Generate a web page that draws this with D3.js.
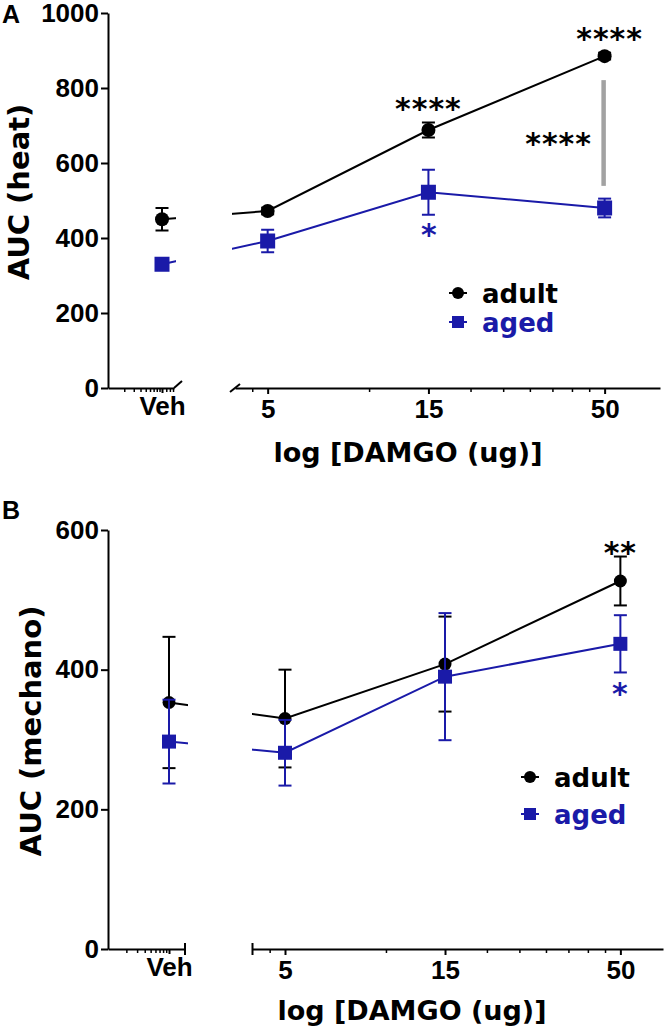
<!DOCTYPE html>
<html><head><meta charset="utf-8">
<script src="https://cdn.jsdelivr.net/npm/d3@7"></script>
<style>body{margin:0;background:#fff}</style>
</head><body>
<svg id="c" width="670" height="1031" xmlns="http://www.w3.org/2000/svg"></svg>
<script>
// ---------- data ----------
const doses = [5, 15, 50];
const vehDose = 10;
const xMajorTicks = [5, 15, 50];
const xMinorTicks = [4.5, 10, 20, 25, 30, 35, 40, 45];
const vehMinorTicksA = [2, 3, 4, 5, 6, 7, 8, 9, 12, 14, 16];
const vehMinorTicksB = [2, 3, 4, 5, 6, 7, 8, 9];
const seriesNames = ["adult", "aged"];

// Panel A: heat
const heatYTicks = [0, 200, 400, 600, 800, 1000];
const heatVehAdult = [450, 30];   // mean, sem
const heatVehAged = [330, 8];
const heatAdult = [472, 688, 885];
const heatAdultErr = [9, 20, 9];
const heatAged = [392, 522, 480];
const heatAgedErr = [30, 60, 25];
const heatCompareBar = [539, 821];  // adult vs aged at 50 (gray bar span)

// Panel B: mechano
const mechYTicks = [0, 200, 400, 600];
const mechVehAdult = [353, 94];
const mechVehAged = [297, 60];
const mechAdult = [330, 408, 527];
const mechAdultErr = [70, 68, 35];
const mechAged = [281, 390, 437];
const mechAgedErr = [47, 91, 41];

// ---------- drawing ----------
const BLUE = "#1a1aa8";
const svg = d3.select("#c");
const NUM_FONT = "'Liberation Sans', Arial, sans-serif";
const TXT_FONT = "'DejaVu Sans', Verdana, sans-serif";

function drawPanel(cfg) {
  const g = svg.append("g");
  const y = d3.scaleLinear().domain([0, cfg.ymax]).range([cfg.y0, cfg.yTop]);
  const xv = d3.scaleLog().domain([1, cfg.vehEnd]).range([cfg.axX, cfg.vehEndPx]);
  const xr = d3.scaleLog().domain([4, cfg.rEnd]).range([cfg.rStart, cfg.rEndPx]);

  // clip for lines through axis break
  const cid = "clip" + cfg.id;
  const cp = svg.append("defs").append("clipPath").attr("id", cid);
  cp.append("rect").attr("x", 0).attr("y", 0).attr("width", cfg.gapL).attr("height", 1031);
  cp.append("rect").attr("x", cfg.gapR).attr("y", 0).attr("width", 670 - cfg.gapR).attr("height", 1031);

  // Y axis
  const ya = g.append("g").attr("transform", `translate(${cfg.axX},0)`)
    .call(d3.axisLeft(y).tickValues(cfg.yTicks).tickFormat(d3.format("d")).tickSize(7).tickSizeOuter(0).tickPadding(2));
  ya.select(".domain").attr("stroke-width", 2);
  ya.selectAll(".tick line").attr("stroke-width", 2);
  ya.selectAll(".tick text").attr("font-family", NUM_FONT).attr("font-weight", "bold")
    .attr("font-size", 26).attr("fill", "#000");

  // Veh x axis
  const xva = g.append("g").attr("transform", `translate(0,${cfg.y0})`)
    .call(d3.axisBottom(xv).tickValues([vehDose]).tickFormat(() => "Veh").tickSize(5).tickSizeOuter(0).tickPadding(6));
  xva.select(".domain").attr("stroke-width", 2);
  xva.selectAll(".tick line").attr("stroke-width", 2);
  xva.selectAll(".tick text").attr("font-family", NUM_FONT).attr("font-weight", "bold")
    .attr("font-size", 26).attr("fill", "#000").attr("dy", cfg.vehDy);
  const xvm = g.append("g").attr("transform", `translate(0,${cfg.y0})`)
    .call(d3.axisBottom(xv).tickValues(cfg.vehMinor).tickFormat("").tickSize(4).tickSizeOuter(0));
  xvm.select(".domain").remove();
  xvm.selectAll(".tick line").attr("stroke-width", 1.5);

  // dose x axis
  const xra = g.append("g").attr("transform", `translate(0,${cfg.y0})`)
    .call(d3.axisBottom(xr).tickValues(xMajorTicks).tickFormat(d3.format("d")).tickSize(6).tickSizeOuter(0).tickPadding(8));
  xra.select(".domain").attr("stroke-width", 2);
  xra.selectAll(".tick line").attr("stroke-width", 2);
  xra.selectAll(".tick text").attr("font-family", NUM_FONT).attr("font-weight", "bold")
    .attr("font-size", 26).attr("fill", "#000").attr("dy", cfg.doseDy);
  const xrm = g.append("g").attr("transform", `translate(0,${cfg.y0})`)
    .call(d3.axisBottom(xr).tickValues(xMinorTicks).tickFormat("").tickSize(4).tickSizeOuter(0));
  xrm.select(".domain").remove();
  xrm.selectAll(".tick line").attr("stroke-width", 1.5);

  // break marks
  if (cfg.slashes) {
    const e1 = xv.range()[1], s2 = xr.range()[0];
    g.append("line").attr("x1", e1).attr("y1", cfg.y0).attr("x2", e1 + 8).attr("y2", cfg.y0 - 7)
      .attr("stroke", "#000").attr("stroke-width", 2);
    g.append("line").attr("x1", s2 - 5).attr("y1", cfg.y0 + 4).attr("x2", s2 + 5).attr("y2", cfg.y0 - 4)
      .attr("stroke", "#000").attr("stroke-width", 2);
  } else {
    [xv.range()[1], xr.range()[0]].forEach(px => {
      g.append("line").attr("x1", px).attr("x2", px).attr("y1", cfg.y0 - 6).attr("y2", cfg.y0 + 6)
        .attr("stroke", "#000").attr("stroke-width", 2);
    });
  }

  // axis titles
  g.append("text").attr("transform", `translate(${cfg.yTitleX},${cfg.yTitleY}) rotate(-90)`)
    .attr("text-anchor", "middle").attr("font-family", TXT_FONT).attr("font-weight", "bold")
    .attr("font-size", 29).text(cfg.yTitle);
  g.append("text").attr("x", cfg.xTitleX).attr("y", cfg.xTitleY)
    .attr("text-anchor", "middle").attr("font-family", TXT_FONT).attr("font-weight", "bold")
    .attr("font-size", 27).text("log [DAMGO (ug)]");
  g.append("text").attr("x", 2).attr("y", cfg.labelY).attr("font-family", NUM_FONT)
    .attr("font-weight", "bold").attr("font-size", 25).text(cfg.label);

  const series = [
    {name: "adult", color: "#000", veh: cfg.vehAdult, m: cfg.adult, e: cfg.adultErr, shape: "circle"},
    {name: "aged", color: BLUE, veh: cfg.vehAged, m: cfg.aged, e: cfg.agedErr, shape: "square"}
  ];

  // gray comparison bar
  if (cfg.bar) {
    g.append("line").attr("x1", xr(50) - 1).attr("x2", xr(50) - 1)
      .attr("y1", y(cfg.bar[0])).attr("y2", y(cfg.bar[1]))
      .attr("stroke", "#a2a2a2").attr("stroke-width", 4.5);
  }

  series.forEach(s => {
    const pts = [{x: xv(vehDose), v: s.veh[0], e: s.veh[1]}]
      .concat(doses.map((d, i) => ({x: xr(d), v: s.m[i], e: s.e[i]})));
    const line = d3.line().x(p => p.x).y(p => y(p.v));
    g.append("path").attr("d", line(pts)).attr("fill", "none").attr("stroke", s.color)
      .attr("stroke-width", 2).attr("clip-path", `url(#${cid})`);
    pts.forEach(p => {
      g.append("line").attr("x1", p.x).attr("x2", p.x).attr("y1", y(p.v - p.e)).attr("y2", y(p.v + p.e))
        .attr("stroke", s.color).attr("stroke-width", 2);
      [p.v - p.e, p.v + p.e].forEach(v => {
        g.append("line").attr("x1", p.x - 6.5).attr("x2", p.x + 6.5).attr("y1", y(v)).attr("y2", y(v))
          .attr("stroke", s.color).attr("stroke-width", 2);
      });
    });
    pts.forEach(p => {
      if (s.shape === "circle") {
        g.append("circle").attr("cx", p.x).attr("cy", y(p.v)).attr("r", cfg.r).attr("fill", s.color);
      } else {
        g.append("rect").attr("x", p.x - cfg.sq / 2).attr("y", y(p.v) - cfg.sq / 2)
          .attr("width", cfg.sq).attr("height", cfg.sq).attr("fill", s.color);
      }
    });
  });

  // significance marks
  cfg.stars.forEach(st => {
    g.append("text").attr("x", st.x(xr)).attr("y", st.y(y)).attr("text-anchor", "middle")
      .attr("font-family", TXT_FONT).attr("font-weight", "bold").attr("font-size", 30).attr("letter-spacing", 1)
      .attr("fill", st.color).text(st.t);
  });

  // legend
  series.forEach((s, i) => {
    const lx = cfg.legX, ly = cfg.legY + i * cfg.legDy;
    g.append("line").attr("x1", lx - 9).attr("x2", lx + 9).attr("y1", ly).attr("y2", ly)
      .attr("stroke", s.color).attr("stroke-width", 2);
    if (s.shape === "circle") g.append("circle").attr("cx", lx).attr("cy", ly).attr("r", 6).attr("fill", s.color);
    else g.append("rect").attr("x", lx - 6).attr("y", ly - 6).attr("width", 12).attr("height", 12).attr("fill", s.color);
    g.append("text").attr("x", lx + 24).attr("y", ly + 10).attr("font-family", TXT_FONT)
      .attr("font-weight", "bold").attr("font-size", 26).attr("fill", s.color).text(s.name);
  });
}

drawPanel({
  id: "A", label: "A", labelY: 23, ymax: 1000, yTicks: heatYTicks, y0: 388, yTop: 13, axX: 108,
  vehEnd: Math.pow(10, 66 / 54), vehEndPx: 174, rEnd: 73, rStart: 235, rEndPx: 660,
  gapL: 176, gapR: 232, vehMinor: vehMinorTicksA, slashes: true, vehDy: "0.62em", doseDy: "0.62em",
  yTitle: "AUC (heat)", yTitleX: 29, yTitleY: 192, xTitleX: 408, xTitleY: 462,
  vehAdult: heatVehAdult, vehAged: heatVehAged, adult: heatAdult, adultErr: heatAdultErr,
  aged: heatAged, agedErr: heatAgedErr, bar: heatCompareBar, r: 7, sq: 15,
  legX: 458, legY: 293, legDy: 29,
  stars: [
    {t: "****", color: "#000", x: xr => xr(50) + 5, y: y => y(885) - 7},
    {t: "****", color: "#000", x: xr => xr(15), y: y => y(688) - 11},
    {t: "****", color: "#000", x: xr => xr(50) - 46, y: y => y(680) + 21},
    {t: "*", color: BLUE, x: xr => xr(15) + 1, y: y => y(522) + 53}
  ]
});

drawPanel({
  id: "B", label: "B", labelY: 519, ymax: 600, yTicks: mechYTicks, y0: 949, yTop: 530, axX: 108,
  vehEnd: Math.pow(10, 77 / 61), vehEndPx: 185, rEnd: 67, rStart: 252.5, rEndPx: 663,
  gapL: 188, gapR: 252, vehMinor: vehMinorTicksB, slashes: false, vehDy: "0.6em", doseDy: "0.6em",
  yTitle: "AUC (mechano)", yTitleX: 41, yTitleY: 731, xTitleX: 412, xTitleY: 1020,
  vehAdult: mechVehAdult, vehAged: mechVehAged, adult: mechAdult, adultErr: mechAdultErr,
  aged: mechAged, agedErr: mechAgedErr, bar: null, r: 6.5, sq: 14,
  legX: 530, legY: 777, legDy: 37,
  stars: [
    {t: "**", color: "#000", x: xr => xr(50), y: y => y(562) + 6},
    {t: "*", color: BLUE, x: xr => xr(50), y: y => y(396) + 32}
  ]
});
</script>
</body></html>
